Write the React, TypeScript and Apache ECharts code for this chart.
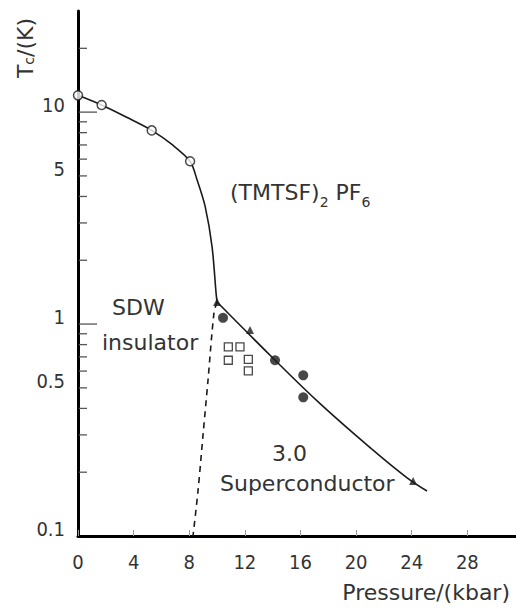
import React, { useEffect, useRef } from "react";
import * as echarts from "echarts";

// ---- data (pressure in kbar, Tc in K) ----
const sdwCurveP = [0, 1.7, 3.5, 5.3, 6.8, 8.06, 8.56, 9.14, 9.64, 9.93, 10.0];
const sdwCurveT = [12, 10.8, 9.45, 8.2, 7.0, 5.86, 4.8, 3.6, 2.32, 1.4, 1.27];

const scCurveP = [10.0, 14.05, 17.41, 21.1, 23.67, 25.1];
const scCurveT = [1.27, 0.688, 0.421, 0.258, 0.188, 0.163];

const dashP = [10.0, 9.78, 9.35, 9.0, 8.63, 8.27];
const dashT = [1.27, 1.13, 0.543, 0.304, 0.163, 0.1];

const openCircleP = [0, 1.7, 5.3, 8.06];
const openCircleT = [12, 10.8, 8.2, 5.86];

const filledCircleP = [10.43, 14.17, 16.2, 16.2];
const filledCircleT = [1.07, 0.675, 0.573, 0.451];

const squareP = [10.81, 11.65, 10.81, 12.25, 12.25];
const squareT = [0.78, 0.78, 0.675, 0.682, 0.601];

const triangleP = [10.0, 12.37, 24.1];
const triangleT = [1.27, 0.937, 0.182];

const yLabelValues = [10, 5, 1, 0.5, 0.1];
const yLabelTexts = ["10", "5", "1", "0.5", "0.1"];
const yMajorTicks = [1, 10];
const yMinorTicks = [0.2, 0.3, 0.4, 0.5, 0.6, 0.7, 0.8, 0.9, 2, 3, 4, 5, 6, 7, 8, 9, 20];

const X_MIN = 0;
const X_MAX = 31.5;
const X_INTERVAL = 4;
const Y_MIN = 0.1;
const Y_MAX = 30;

const zip = (a: number[], b: number[]) => a.map((v, i) => [v, b[i]]);

const FONT = "'DejaVu Sans', sans-serif";
const FONT_C = "'DejaVu Sans Condensed', 'Liberation Sans Narrow', 'DejaVu Sans', sans-serif";
const INK = "#1a1a1a";
const TXT = "#333";

export default function App() {
  const ref = useRef<HTMLDivElement>(null);
  useEffect(() => {
    if (!ref.current) return;
    const chart = echarts.init(ref.current, undefined, { renderer: "svg" });
    const tickData = [
      ...yMajorTicks.map((v) => [0, v, 18]),
      ...yMinorTicks.map((v) => [0, v, 8]),
    ];
    const option: any = {
      animation: false,
      backgroundColor: "#fff",
      grid: { left: 78, right: 0, top: 11, bottom: 73 },
      xAxis: {
        type: "value",
        min: X_MIN,
        max: X_MAX,
        interval: X_INTERVAL,
        axisLine: { lineStyle: { color: "#000", width: 3 } },
        axisTick: { inside: true, length: 6, lineStyle: { color: "#999", width: 1 } },
        axisLabel: {
          showMaxLabel: false,
          fontSize: 20,
          fontFamily: FONT_C,
          color: TXT,
          margin: 16,
        },
        splitLine: { show: false },
      },
      yAxis: {
        type: "log",
        logBase: 10,
        min: Y_MIN,
        max: Y_MAX,
        axisLine: { lineStyle: { color: "#000", width: 3 } },
        axisTick: { show: false },
        axisLabel: { show: false },
        splitLine: { show: false },
        minorTick: { show: false },
      },
      series: [
        {
          type: "line",
          data: zip(sdwCurveP, sdwCurveT),
          smooth: 0.3,
          showSymbol: false,
          lineStyle: { color: INK, width: 1.6 },
          z: 2,
        },
        {
          type: "line",
          data: zip(scCurveP, scCurveT),
          smooth: 0.4,
          showSymbol: false,
          lineStyle: { color: INK, width: 1.6 },
          z: 2,
        },
        {
          type: "line",
          data: zip(dashP, dashT),
          smooth: 0.3,
          showSymbol: false,
          lineStyle: { color: INK, width: 1.6, type: [6, 5] },
          z: 2,
        },
        {
          type: "scatter",
          data: zip(openCircleP, openCircleT),
          symbol: "circle",
          symbolSize: 9,
          itemStyle: { color: "#fff", borderColor: INK, borderWidth: 1.5 },
          z: 5,
        },
        {
          type: "scatter",
          data: zip(filledCircleP, filledCircleT),
          symbol: "circle",
          symbolSize: 10,
          itemStyle: { color: INK },
          z: 5,
        },
        {
          type: "scatter",
          data: zip(squareP, squareT),
          symbol: "rect",
          symbolSize: 8,
          itemStyle: { color: "#fff", borderColor: INK, borderWidth: 1.3 },
          z: 5,
        },
        {
          type: "scatter",
          data: zip(triangleP, triangleT),
          symbol: "triangle",
          symbolSize: 8,
          itemStyle: { color: INK },
          z: 5,
        },
        {
          type: "custom",
          data: tickData,
          silent: true,
          z: 6,
          renderItem: (_p: any, api: any) => {
            const pt = api.coord([0, api.value(1)]);
            const len = api.value(2);
            return {
              type: "line",
              shape: { x1: pt[0] + 1, y1: pt[1], x2: pt[0] + 1 + len, y2: pt[1] },
              style: { stroke: "#555", lineWidth: 1.3 },
            };
          },
        },
        {
          type: "custom",
          data: yLabelValues.map((v, i) => [0, v, i]),
          silent: true,
          z: 6,
          renderItem: (_p: any, api: any) => {
            const pt = api.coord([0, api.value(1)]);
            const i = api.value(2);
            return {
              type: "text",
              x: pt[0] - 13,
              y: pt[1] - 7,
              style: {
                text: yLabelTexts[i],
                align: "right",
                verticalAlign: "middle",
                fontSize: 20,
                fontFamily: FONT_C,
                fill: TXT,
              },
            };
          },
        },
      ],
      graphic: [
        {
          type: "text",
          x: 25,
          y: 48,
          rotation: Math.PI / 2,
          style: {
            text: "T{s|c}/(K)",
            align: "center",
            verticalAlign: "middle",
            fontSize: 22,
            fontFamily: FONT,
            fill: TXT,
            rich: {
              s: { fontSize: 14, fontFamily: FONT, fill: TXT, verticalAlign: "bottom", lineHeight: 14 },
            },
          },
        },
        {
          type: "text",
          x: 510,
          y: 592,
          style: {
            text: "Pressure/(kbar)",
            align: "right",
            verticalAlign: "middle",
            fontSize: 22,
            fontFamily: FONT,
            fill: TXT,
          },
        },
        {
          type: "text",
          x: 230,
          y: 192,
          style: {
            text: "{m|(TMTSF)}{s|2}{m| PF}{s|6}",
            align: "left",
            verticalAlign: "middle",
            rich: {
              m: { fontSize: 22, fontFamily: FONT, fill: TXT, lineHeight: 34 },
              s: { fontSize: 14, fontFamily: FONT, fill: TXT, lineHeight: 14, verticalAlign: "bottom" },
            },
          },
        },
        {
          type: "text",
          x: 112,
          y: 307,
          style: { text: "SDW", align: "left", verticalAlign: "middle", fontSize: 22, fontFamily: FONT, fill: TXT },
        },
        {
          type: "text",
          x: 102,
          y: 342,
          style: { text: "insulator", align: "left", verticalAlign: "middle", fontSize: 22, fontFamily: FONT, fill: TXT },
        },
        {
          type: "text",
          x: 272,
          y: 453,
          style: { text: "3.0", align: "left", verticalAlign: "middle", fontSize: 22, fontFamily: FONT, fill: TXT },
        },
        {
          type: "text",
          x: 220,
          y: 483,
          style: { text: "Superconductor", align: "left", verticalAlign: "middle", fontSize: 22, fontFamily: FONT, fill: TXT },
        },
      ],
    };
    chart.setOption(option);
    return () => chart.dispose();
  }, []);
  return (
    <div
      ref={ref}
      style={{ position: "fixed", left: 0, top: 0, width: 516, height: 609, background: "#fff" }}
    />
  );
}
